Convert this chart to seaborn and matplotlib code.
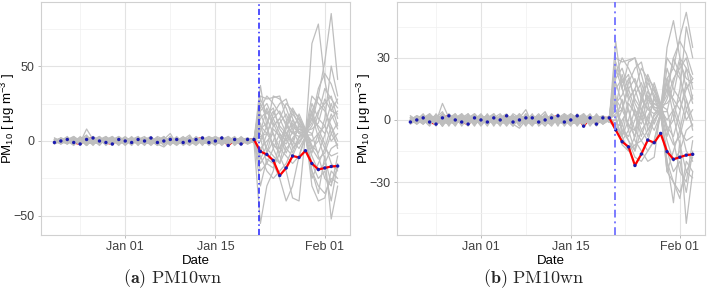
import numpy as np
import pandas as pd
import matplotlib
matplotlib.use("Agg")
import matplotlib.pyplot as plt
import matplotlib.dates as mdates
from matplotlib.ticker import FixedLocator
import seaborn as sns

# ---------------- data ----------------
start_date = "2019-12-21"          # first day of the series
intervention = "2020-01-21 20:00"  # vertical dash-dot line

# placebo gaps, pre-period (Dec 21 .. Jan 21), shared by both panels
gray_pre = [
    [0, 1, -1, 2, -1, 8, 1, -2, 1, 0, -1, 2, -2, 1, 0, -1, 2, -1, 1, 0, -2, 1, 2, -1, 0, 1, -2, 2, -1, 1, 0, 0],
    [-1, 2, 0, -2, 3, -1, 2, 0, -2, 1, 3, -1, 0, 2, -2, 1, -1, 3, -2, 2, 1, -1, 0, 2, -2, 3, 1, -3, 2, -1, 1, 0],
    [1, -2, 2, 1, -3, 2, -1, 3, -1, 2, -2, 0, 1, -1, 2, 0, -3, 1, 5, -2, 0, 2, -1, 1, 3, -2, 0, 2, -2, 3, -1, 1],
    [0, 0, 3, -2, 1, -3, 2, -1, 0, -3, 2, 1, -2, 0, 1, -2, 2, 0, -1, 3, -3, 0, 1, -2, 2, 1, -1, 0, 3, -2, 2, -1],
    [-2, 1, -1, 3, 0, 2, -3, 2, 1, -1, 0, -2, 2, 1, -3, 2, 0, -2, 3, -1, 2, -2, 3, 0, -1, 2, -3, 1, 0, 2, -1, 1],
    [1, 0, 2, -1, 2, -2, 0, 1, -2, 3, -1, 1, 0, -2, 1, 3, -2, -4, 0, 1, -1, 2, -2, 1, -1, 0, 2, -1, 1, -3, 2, 0],
    [0, -1, 1, 0, -2, 3, 1, -3, 2, 0, 1, -1, 3, -2, 0, 1, -1, 2, 1, -2, 1, 4, -2, 0, 2, -1, 1, 3, -2, 0, 1, -1],
    [-1, 2, -2, 1, 2, -3, 3, 0, -1, 1, -3, 2, 1, 0, -1, 2, 1, -3, 2, 0, 3, -1, -2, 1, 0, -3, 2, 1, -1, 2, -2, 0],
    [2, -1, 0, -2, 1, 4, -2, 1, 3, -2, 1, 0, -1, 3, -1, -2, 1, 2, -2, 1, -2, 0, 2, -3, 3, 1, -2, 0, 2, -1, 0, 1],
    [0, 1, 2, -1, -1, 1, 0, 2, -3, 1, 2, -2, 0, -1, 2, 1, -2, 1, 0, -3, 1, 2, 0, -1, -2, 2, 1, -2, 0, 1, 2, -1],
    [-1, 0, -2, 2, 1, -2, 3, -1, 0, 2, -1, 1, -3, 2, 1, -1, 0, 3, -1, 2, 0, -3, 1, 2, -1, 1, -2, 3, 0, -1, 1, 0],
    [1, -1, 1, 0, 2, 1, -1, -2, 2, -1, 0, 3, -1, 0, -2, 1, 2, -1, -2, 1, 2, 0, -3, 1, 1, -2, 3, -1, 2, 0, -1, 1],
    [0, 2, -1, 1, -2, 0, 2, 1, -1, -1, 3, 0, 2, -1, 1, -3, 1, 0, 2, -2, 1, 1, -1, 3, -2, 0, 1, 2, -3, 1, 0, -1],
    [-1, 1, 0, -3, 2, 1, -1, 2, 0, 1, -2, 2, -1, 1, -2, 2, -1, 1, -3, 2, -1, 1, 2, -2, 1, -1, 0, -2, 1, 2, -2, 0],
    [1, 0, -2, 1, 0, 2, -2, 0, 1, -1, 2, -1, 1, 0, -1, 1, 2, -2, 1, -1, 0, -2, 1, 1, -1, 2, 0, 1, -2, 0, 1, 1],
    [0, -2, 1, 0, 1, -1, 2, -2, 3, 0, -1, -1, 2, -3, 2, 0, 1, -1, 2, 1, -2, 1, 0, 2, -3, 1, 2, -1, -1, 2, 0, -1],
    [-2, 0, 1, 2, -1, 0, 1, 3, -2, 1, 0, 2, -2, 1, 3, -1, 0, 2, -1, -2, 2, 0, -1, 1, 2, -2, -1, 1, 2, -2, 1, 0],
    [1, 1, -1, -1, 2, -1, -2, 1, 0, 2, 1, -3, 1, 2, -1, 0, -2, 1, 1, 2, -1, 2, 1, -2, 0, 1, 2, -2, 1, 2, -1, 1],
    [0, -1, 2, 0, -2, 1, 1, -1, 2, -2, 0, 1, 2, -1, -2, 1, 0, 1, -2, 2, 1, -1, 2, 0, -2, 1, 1, -1, 2, -2, 1, 0],
    [1, -2, 0, 2, 1, -3, 1, 2, -1, 0, 2, -2, 1, 3, -2, 0, 1, -1, 3, -1, -2, 2, 1, 0, 1, -1, -2, 2, 0, 1, -1, 1],
    [-1, 1, 2, -2, 0, 3, -1, 0, 2, 1, -2, 1, 0, 2, -1, -1, 3, 1, -2, 0, 2, -1, 0, 1, -2, 2, -1, 0, 1, -1, 2, 0],
    [2, 0, -1, 1, 2, -2, 0, -1, 1, 3, -2, 0, 1, -2, 2, 1, -1, 0, 2, -2, -1, 3, -1, 2, 0, -2, 1, 2, -1, 0, -2, 1],
    [-1, -1, 1, 3, -1, 2, -1, 1, 0, -2, 1, 2, -1, 1, 0, 2, -3, 2, 0, 1, -1, 0, 2, -2, 1, 3, -1, -1, 0, 2, 1, -1],
    [0, 2, 1, -1, 1, 0, -2, 2, -2, 1, 1, -1, 2, 0, 1, -2, 1, 2, -1, -1, 1, 2, -2, 1, 2, 0, -1, 1, -1, 1, 0, 2],
]

# placebo gaps, post-period (Jan 22 .. Feb 03), panel (a)
gray_post_a = [
    [37, 10, 30, 28, 22, 10, 5, 3, 65, 78, 40, 20, 28],
    [30, 28, 29, 30, 15, -5, 0, 5, 20, 30, 53, 85, 41],
    [25, 15, 5, -10, -20, -38, -40, 5, -20, -35, -10, -52, -30],
    [-55, -30, -20, 0, 10, 5, 8, 6, -30, -40, -38, -20, -25],
    [15, 20, 10, 15, 25, 20, 10, 4, 10, 20, 25, 30, 15],
    [-20, -15, -5, 5, 0, 10, 15, 7, 5, -10, -25, -30, -10],
    [10, 5, 15, 5, -5, -10, 0, 4, 25, 15, 10, 25, 10],
    [5, -5, -10, -15, -5, 0, -5, 3, -10, -20, -15, -5, -2],
    [20, 25, 15, 20, 10, 18, 12, 6, 15, 10, 5, 15, 20],
    [-10, -20, -25, -20, -15, -5, 2, 5, 0, 5, 10, 0, 5],
    [8, 12, 20, 10, 5, 0, 10, 8, -5, 0, 15, 50, 30],
    [-5, 0, 5, -5, -10, -15, -10, 2, -15, -25, -20, -40, -15],
    [12, -8, 0, 12, 18, 8, -2, 6, 30, 25, 20, 10, 0],
    [0, 10, -5, -15, 5, 12, 5, 4, -20, -30, -35, -25, -28],
    [28, 18, 22, 8, 2, -8, 3, 7, 8, 12, 28, 20, 18],
    [-15, -8, 8, 3, -8, 2, 8, 5, -8, 5, -5, 10, -5],
    [3, 5, -2, -8, 12, 22, 14, 6, 12, 30, 22, 5, 12],
    [-30, -12, -15, -25, -40, -30, -10, 4, -25, -15, -5, -10, -8],
    [22, 30, 25, 18, 12, 5, 3, 5, 15, 35, 45, 38, 25],
    [-8, 5, 18, 25, 28, 15, 6, 6, -5, -12, -8, 5, -3],
    [18, 8, -3, -5, 8, 20, 16, 7, 20, 8, -2, -15, -20],
    [-12, -3, 10, 15, 5, -3, 12, 4, 4, 18, 35, 28, 22],
    [6, 22, 12, 2, -2, 6, 18, 8, -3, -8, 4, 18, 8],
    [2, -15, -18, -8, 3, 14, 6, 5, 18, 2, -12, -28, -18],
]

# placebo gaps, post-period (Jan 22 .. Feb 03), panel (b)
gray_post_b = [
    [38, 15, 28, 30, 22, 10, 5, 3, 35, 48, 30, 15, 20],
    [30, 28, 29, 30, 15, -5, 0, 5, 20, 25, 40, 52, 35],
    [25, 15, 5, -10, -15, -20, -18, 5, -20, -40, -10, -50, -25],
    [10, -5, -8, 0, 10, 5, 8, 6, -25, -30, -38, -20, -25],
    [15, 20, 10, 15, 25, 20, 10, 4, 10, 20, 25, 30, 15],
    [-5, -10, -5, 5, 0, 10, 15, 7, 5, -10, -25, -30, -10],
    [10, 5, 15, 5, -5, -10, 0, 4, 25, 15, 10, 25, 10],
    [5, -5, -10, -15, -5, 0, -5, 3, -10, -20, -15, -5, -2],
    [20, 25, 15, 20, 10, 18, 12, 6, 15, 10, 5, 15, 20],
    [0, -8, -15, -12, -10, -5, 2, 5, 0, 5, 10, 0, 5],
    [8, 12, 20, 10, 5, 0, 10, 8, -5, 0, 15, 45, 30],
    [-5, 0, 5, -5, -10, -15, -10, 2, -15, -25, -20, -35, -15],
    [12, -8, 0, 12, 18, 8, -2, 6, 30, 25, 20, 10, 0],
    [0, 10, -5, -15, 5, 12, 5, 4, -20, -30, -35, -25, -28],
    [28, 18, 22, 8, 2, -8, 3, 7, 8, 12, 28, 20, 18],
    [-3, -8, 8, 3, -8, 2, 8, 5, -8, 5, -5, 10, -5],
    [3, 5, -2, -8, 12, 22, 14, 6, 12, 30, 22, 5, 12],
    [5, -2, -10, -18, -20, -15, -10, 4, -25, -15, -5, -10, -8],
    [22, 30, 25, 18, 12, 5, 3, 5, 15, 30, 38, 32, 22],
    [-3, 5, 18, 25, 28, 15, 6, 6, -5, -12, -8, 5, -3],
    [18, 8, -3, -5, 8, 20, 16, 7, 20, 8, -2, -15, -20],
    [-2, -3, 10, 15, 5, -3, 12, 4, 4, 18, 30, 25, 20],
    [6, 22, 12, 2, -2, 6, 18, 8, -3, -8, 4, 18, 8],
    [2, -12, -15, -8, 3, 14, 6, 5, 18, 2, -12, -25, -18],
]

# treated unit gap
red_pre = [-1, 0, 1, -1, -2, 1, 2, 0, -1, -2, 1, 0, -1, 1, 0, 2, -1, 0, 1, 1,
           -1, 0, 1, 2, -1, 0, 2, -3, 1, -2, 1, 1]
red_post_a = [-7, -9, -13, -23, -18, -10, -11, -6.5, -15, -19, -18, -17, -16.7]
red_post_b = [-4.8, -10.5, -13, -22, -16.5, -9.7, -11, -6.5, -15.3, -19, -18, -17, -16.6]

yticks_a = [-50, 0, 50]
yminor_a = [-25, 25, 75]
ylim_a = (-62.7, 92.7)
yticks_b = [-30, 0, 30]
yminor_b = [-45, -15, 15, 45]
ylim_b = (-55.6, 57)

xticks = ["2020-01-01", "2020-01-15", "2020-02-01"]
xminor = ["2019-12-25", "2020-01-08", "2020-01-23 12:00"]
xlim = ("2019-12-18 22:00", "2020-02-04 22:00")

captions = [r"$\mathbf{(a)}\ \mathrm{PM10wn}$", r"$\mathbf{(b)}\ \mathrm{PM10wn}$"]

# ---------------- style ----------------
sns.set_theme(style="white")
plt.rcParams['font.family'] = ['Liberation Sans', 'DejaVu Sans']
plt.rcParams['mathtext.fontset'] = 'custom'
plt.rcParams['mathtext.rm'] = 'Liberation Sans'
plt.rcParams['mathtext.it'] = 'Liberation Sans:italic'
plt.rcParams['mathtext.bf'] = 'Liberation Sans:bold'

fig = plt.figure(figsize=(7.09, 2.93), dpi=100)
W, H = 709, 293
ax_a = fig.add_axes([41 / W, 1 - 235 / H, (350 - 41) / W, (235 - 2) / H])
ax_b = fig.add_axes([397 / W, 1 - 235 / H, (705 - 397) / W, (235 - 2) / H])


def build_long(pre_list, post_list):
    rows = []
    for i, (pre, post) in enumerate(zip(pre_list, post_list)):
        vals = list(pre) + list(post)
        dates = pd.date_range(start_date, periods=len(vals), freq="D")
        rows.append(pd.DataFrame({"date": dates, "gap": vals, "unit": i}))
    return pd.concat(rows, ignore_index=True)


def draw(ax, post_list, red_post, yticks, yminor, ylim, vcolor, vlw, label_x):
    red = list(red_pre) + list(red_post)
    rdates = pd.date_range(start_date, periods=len(red), freq="D")
    rdf = pd.DataFrame({"date": rdates, "gap": red})
    n_pre = len(red_pre)
    pre_df = rdf.iloc[:n_pre]
    post_df = rdf.iloc[n_pre - 1:]

    # treated unit, pre-period line: beneath the placebo band
    sns.lineplot(data=pre_df, x="date", y="gap", color="#FF0000", lw=1.6, ax=ax, zorder=2)

    df = build_long(gray_pre, post_list)
    sns.lineplot(data=df, x="date", y="gap", units="unit", estimator=None,
                 color="#BEBEBE", lw=0.9, ax=ax, zorder=3)

    # treated unit, post-period line and all points: on top
    sns.lineplot(data=post_df, x="date", y="gap", color="#FF0000", lw=1.6, ax=ax, zorder=4)
    sns.scatterplot(data=rdf, x="date", y="gap", color="#1A1AB0", s=6,
                    edgecolor="none", ax=ax, zorder=4.1)
    ax.axvline(pd.Timestamp(intervention), color=vcolor, lw=vlw,
               ls=(0, (4, 2, 1, 2)), zorder=5)

    ax.set_xlim(pd.Timestamp(xlim[0]), pd.Timestamp(xlim[1]))
    ax.set_ylim(*ylim)
    ax.set_xticks([pd.Timestamp(t) for t in xticks])
    ax.xaxis.set_minor_locator(FixedLocator([mdates.date2num(pd.Timestamp(t)) for t in xminor]))
    ax.xaxis.set_major_formatter(mdates.DateFormatter("%b %d"))
    ax.set_yticks(yticks)
    ax.yaxis.set_minor_locator(FixedLocator(yminor))
    ax.grid(which="major", color="#E3E3E3", lw=0.8, zorder=0)
    ax.grid(which="minor", color="#F0F0F0", lw=0.5, zorder=0)
    ax.set_axisbelow(True)
    for s in ax.spines.values():
        s.set_color("#D0D0D0")
        s.set_linewidth(0.8)
    ax.tick_params(axis="both", which="major", labelsize=9, labelcolor="#404040",
                   length=2.5, width=0.6, color="#B0B0B0", pad=2, bottom=True, left=True)
    ax.tick_params(axis="both", which="minor", length=0)
    ax.set_xlabel("Date", fontsize=9.5, labelpad=1, color="black")
    ax.set_ylabel(r"PM$_{10}$ [ μg m$^{-3}$ ]", fontsize=9.5, color="black")
    ax.yaxis.set_label_coords(label_x, 0.5)


draw(ax_a, gray_post_a, red_post_a, yticks_a, yminor_a, ylim_a, "#2020FF", 1.1, -0.078)
draw(ax_b, gray_post_b, red_post_b, yticks_b, yminor_b, ylim_b, "#7B7BFF", 1.4, -0.078)

fig.text(173 / W, 1 - 279 / H, captions[0], ha="center", va="center",
         fontsize=13, math_fontfamily="cm")
fig.text(534 / W, 1 - 279 / H, captions[1], ha="center", va="center",
         fontsize=13, math_fontfamily="cm")

fig.savefig("out.png", dpi=100)
